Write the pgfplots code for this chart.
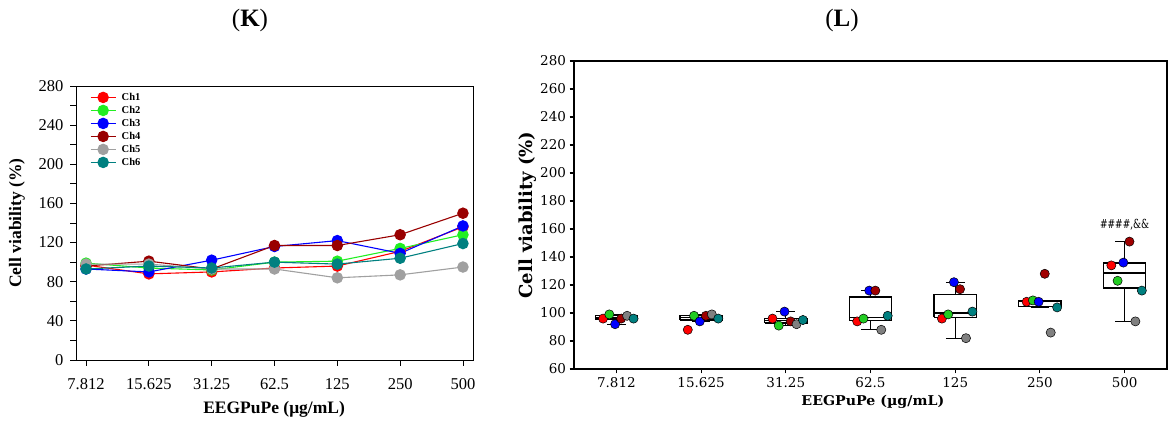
\documentclass[border=0pt]{standalone}
\usepackage{fontspec}
\setmainfont{Liberation Serif}
\newfontfamily\lfont{DejaVu Serif}
\newfontfamily\lxfont[FakeStretch=1.05]{DejaVu Serif}
\newfontfamily\annfont[FakeStretch=0.72]{DejaVu Serif}
\usepackage{pgfplots}
\usepackage{pgfplotstable}
\pgfplotsset{compat=1.18}

\definecolor{kR}{HTML}{FF0000}
\definecolor{kG}{HTML}{22EE22}
\definecolor{kB}{HTML}{0000FF}
\definecolor{kD}{HTML}{990000}
\definecolor{kS}{HTML}{A0A0A0}
\definecolor{kT}{HTML}{008080}
\definecolor{lG}{HTML}{22CC22}
\definecolor{lD}{HTML}{A00000}
\definecolor{lS}{HTML}{808080}

\pgfplotstableread{
x c1 c2 c3 c4 c5 c6
0 97 99 93 96 98 93
1 88 94 90 101 98 96
2 90 92 102 93 93 94
3 94 100 116 117 93 100
4 96 101 122 117 84 98
5 111 114 109 128 87 104
6 136 128 137 150 95 119
}\Kdata

\pgfplotstableread{
x c1 c2 c3 c4 c5 c6
0 96 99 92 96 98 96
1 88 98 94 98 99 96
2 96 91 101 94 92 95
3 94 96 116 116 88 98
4 96 99 122 117 82 101
5 108 109 108 128 86 104
6 134 123 136 151 94 116
}\Ldata

\begin{document}
\begin{tikzpicture}
\useasboundingbox (0pt,0pt) rectangle (1176pt,425pt);
\node[font=\fontsize{25}{25}\selectfont] at (250pt,405pt) {(\textbf{K})};
\node[font=\fontsize{25}{25}\selectfont] at (842pt,405pt) {(\textbf{L})};

% ---------------- Panel K ----------------
\begin{axis}[
  at={(76pt,65pt)}, anchor=south west, scale only axis,
  width=397pt, height=274pt,
  xmin=-0.16, xmax=6.16, ymin=0, ymax=280,
  xtick={0,...,6}, xticklabels={7.812,15.625,31.25,62.5,125,250,500},
  ytick={0,40,...,280}, minor y tick num=1,
  tick pos=left, tick align=outside,
  major tick length=6pt, minor tick length=6pt,
  axis line style={line width=0.9pt}, every tick/.style={line width=0.9pt, black},
  /pgf/number format/assume math mode=true,
  ticklabel style={font=\fontsize{16.5}{16.5}\selectfont},
  xticklabel style={yshift=-9pt},
  yticklabel style={xshift=-3pt},
  xlabel={\textbf{EEGPuPe (μg/mL)}},
  ylabel={\textbf{Cell viability (\%)}},
  label style={font=\fontsize{17.5}{17.5}\selectfont},
  xlabel style={at={(axis description cs:0.499,-0.179)}, anchor=center},
  ylabel style={at={(axis description cs:-0.149,0.5)}, anchor=center},
  legend style={at={(axis description cs:0.035,0.978)}, anchor=north west,
    draw=none, fill=none, inner sep=0pt, row sep=2.6pt,
    font=\bfseries\fontsize{10.5}{10.5}\selectfont, nodes={inner sep=0.5pt},
    /tikz/every odd column/.append style={column sep=5pt}},
  legend image code/.code={\draw[mark repeat=2,mark phase=2] plot coordinates {(0pt,0pt) (12.5pt,0pt) (25pt,0pt)};},
  legend cell align=left,
]
\addplot[kR, line width=1.1pt, mark=*, mark size=5.2pt] table[x=x,y=c1]{\Kdata};
\addlegendentry{Ch1}
\addplot[kG, line width=1.1pt, mark=*, mark size=5.2pt] table[x=x,y=c2]{\Kdata};
\addlegendentry{Ch2}
\addplot[kB, line width=1.1pt, mark=*, mark size=5.2pt] table[x=x,y=c3]{\Kdata};
\addlegendentry{Ch3}
\addplot[kD, line width=1.1pt, mark=*, mark size=5.2pt] table[x=x,y=c4]{\Kdata};
\addlegendentry{Ch4}
\addplot[kS, line width=1.1pt, mark=*, mark size=5.2pt] table[x=x,y=c5]{\Kdata};
\addlegendentry{Ch5}
\addplot[kT, line width=1.1pt, mark=*, mark size=5.2pt] table[x=x,y=c6]{\Kdata};
\addlegendentry{Ch6}
\end{axis}

% ---------------- Panel L ----------------
\begin{axis}[
  at={(574pt,56pt)}, anchor=south west, scale only axis,
  width=593pt, height=308pt,
  xmin=-0.5, xmax=6.5, ymin=60, ymax=280,
  xtick={0,...,6}, xticklabels={7.812,15.625,31.25,62.5,125,250,500},
  ytick={60,80,...,280},
  tick pos=left, tick align=outside,
  major tick length=4.5pt,
  axis line style={line width=1.2pt}, every tick/.style={line width=1.1pt, black},
  /pgf/number format/assume math mode=true,
  ticklabel style={font=\lfont\fontsize{13.5}{13.5}\selectfont},
  xlabel={\lxfont\bfseries\fontsize{13.5}{13.5}\selectfont EEGPuPe (µg/mL)},
  ylabel={\lfont\bfseries\fontsize{18}{18}\selectfont Cell viability (\%)},
  xlabel style={at={(axis description cs:0.504,-0.107)}, anchor=center},
  ylabel style={at={(axis description cs:-0.078,0.5)}, anchor=center},
  unbounded coords=jump,
]
% boxes: box, median, lower whisker + cap, upper whisker + cap
\addplot[black, line width=1.3pt, line join=miter] coordinates {
 (-0.25,95.7) (0.25,95.7) (0.25,98) (-0.25,98) (-0.25,95.7) (nan,nan)
 (-0.25,96.8) (0.25,96.8) (nan,nan)
 (0,95.7) (0,92) (nan,nan) (-0.11,92) (0.11,92) (nan,nan)
 (0,98) (0,99) (nan,nan) (-0.11,99) (0.11,99)
};
\addplot[black, line width=1.3pt, line join=miter] coordinates {
 (0.75,95) (1.25,95) (1.25,98.3) (0.75,98.3) (0.75,95) (nan,nan)
 (0.75,97) (1.25,97) (nan,nan)
 (1,95) (1,94) (nan,nan) (0.89,94) (1.11,94) (nan,nan)
 (1,98.3) (1,99) (nan,nan) (0.89,99) (1.11,99)
};
\addplot[black, line width=1.3pt, line join=miter] coordinates {
 (1.75,92.8) (2.25,92.8) (2.25,96) (1.75,96) (1.75,92.8) (nan,nan)
 (1.75,94.8) (2.25,94.8) (nan,nan)
 (2,92.8) (2,91) (nan,nan) (1.89,91) (2.11,91) (nan,nan)
 (2,96) (2,101) (nan,nan) (1.89,101) (2.11,101)
};
\addplot[black, line width=1.3pt, line join=miter] coordinates {
 (2.75,94.5) (3.25,94.5) (3.25,111.5) (2.75,111.5) (2.75,94.5) (nan,nan)
 (2.75,97) (3.25,97) (nan,nan)
 (3,94.5) (3,88) (nan,nan) (2.89,88) (3.11,88) (nan,nan)
 (3,111.5) (3,116) (nan,nan) (2.89,116) (3.11,116)
};
\addplot[black, line width=1.3pt, line join=miter] coordinates {
 (3.75,96.8) (4.25,96.8) (4.25,113) (3.75,113) (3.75,96.8) (nan,nan)
 (3.75,100) (4.25,100) (nan,nan)
 (4,96.8) (4,82) (nan,nan) (3.89,82) (4.11,82) (nan,nan)
 (4,113) (4,122) (nan,nan) (3.89,122) (4.11,122)
};
\addplot[black, line width=1.3pt, line join=miter] coordinates {
 (4.75,104.5) (5.25,104.5) (5.25,109) (4.75,109) (4.75,104.5) (nan,nan)
 (4.75,108) (5.25,108) (nan,nan)
 (5,104.5) (5,104) (nan,nan) (4.89,104) (5.11,104) (nan,nan)
 (4.89,109) (5.11,109)
};
\addplot[black, line width=1.3pt, line join=miter] coordinates {
 (5.75,117.8) (6.25,117.8) (6.25,135.8) (5.75,135.8) (5.75,117.8) (nan,nan)
 (5.75,128.5) (6.25,128.5) (nan,nan)
 (6,117.8) (6,94) (nan,nan) (5.89,94) (6.11,94) (nan,nan)
 (6,135.8) (6,151) (nan,nan) (5.89,151) (6.11,151)
};

\addplot[only marks, mark=*, mark size=4.6pt, mark options={fill=kR, draw=black, line width=0.5pt}] table[x expr=\thisrow{x}-0.157, y=c1]{\Ldata};
\addplot[only marks, mark=*, mark size=4.6pt, mark options={fill=lG, draw=black, line width=0.5pt}] table[x expr=\thisrow{x}-0.083, y=c2]{\Ldata};
\addplot[only marks, mark=*, mark size=4.6pt, mark options={fill=kB, draw=black, line width=0.5pt}] table[x expr=\thisrow{x}-0.015, y=c3]{\Ldata};
\addplot[only marks, mark=*, mark size=4.6pt, mark options={fill=lD, draw=black, line width=0.5pt}] table[x expr=\thisrow{x}+0.057, y=c4]{\Ldata};
\addplot[only marks, mark=*, mark size=4.6pt, mark options={fill=lS, draw=black, line width=0.5pt}] table[x expr=\thisrow{x}+0.127, y=c5]{\Ldata};
\addplot[only marks, mark=*, mark size=4.6pt, mark options={fill=kT, draw=black, line width=0.5pt}] table[x expr=\thisrow{x}+0.203, y=c6]{\Ldata};

\node[font=\annfont\fontsize{12.5}{12.5}\selectfont] at (axis cs:6,163) {\#\#\#\#,\&\&};
\end{axis}
\end{tikzpicture}
\end{document}
